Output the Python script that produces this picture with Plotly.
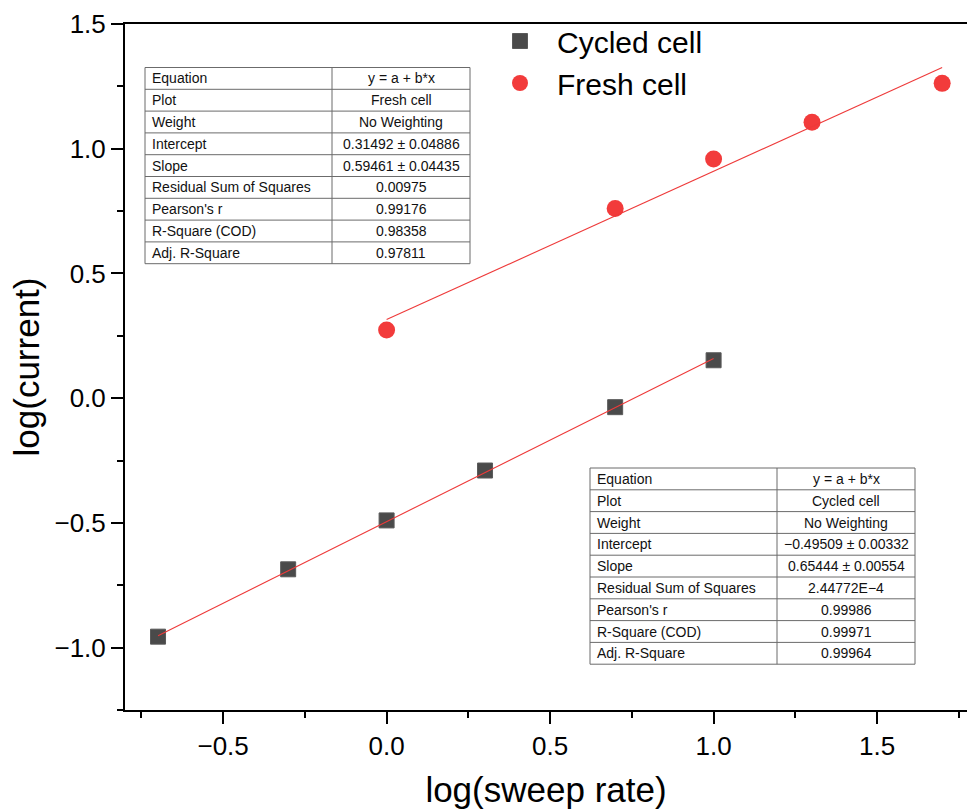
import plotly.graph_objects as go

# ---- data: log10 of sweep rate vs log10 of peak current ----
log_rate_cycled = [-0.699, -0.301, 0.0, 0.301, 0.699, 1.0]
log_i_cycled = [-0.956, -0.686, -0.490, -0.290, -0.036, 0.152]

log_rate_fresh = [0.0, 0.699, 1.0, 1.301, 1.699]
log_i_fresh = [0.273, 0.760, 0.959, 1.106, 1.262]

# linear fit results (y = a + b*x)
fresh_intercept = 0.31492
fresh_slope = 0.59461
cycled_intercept = -0.49509
cycled_slope = 0.65444

stat_labels = ["Equation", "Plot", "Weight", "Intercept", "Slope",
               "Residual Sum of Squares", "Pearson's r", "R-Square (COD)",
               "Adj. R-Square"]
fresh_stats = ["y = a + b*x", "Fresh cell", "No Weighting",
               "0.31492 ± 0.04886", "0.59461 ± 0.04435", "0.00975",
               "0.99176", "0.98358", "0.97811"]
cycled_stats = ["y = a + b*x", "Cycled cell", "No Weighting",
                "−0.49509 ± 0.00332", "0.65444 ± 0.00554", "2.44772E−4",
                "0.99986", "0.99971", "0.99964"]

FONT = "Arial, Liberation Sans, sans-serif"
W, H = 967, 810
ML, MR, MT, MB = 125, 0, 24, 100
PW, PH = W - ML - MR, H - MT - MB


def px_x(px):
    return (px - ML) / PW


def px_y(py):
    return (H - MB - py) / PH


fig = go.Figure()

fig.add_trace(go.Scatter(
    x=log_rate_cycled, y=log_i_cycled, mode="markers", name="Cycled cell",
    marker=dict(symbol="square", size=15, color="#4a4a4a",
                line=dict(color="#5a5a5a", width=1)),
))
fig.add_trace(go.Scatter(
    x=log_rate_fresh, y=log_i_fresh, mode="markers", name="Fresh cell",
    marker=dict(symbol="circle", size=17, color="#f23b3b",
                line=dict(width=0)),
))

# fitted lines over each series' x span
for xs, a, b in [(log_rate_cycled, cycled_intercept, cycled_slope),
                 (log_rate_fresh, fresh_intercept, fresh_slope)]:
    x0, x1 = min(xs), max(xs)
    fig.add_trace(go.Scatter(
        x=[x0, x1], y=[a + b * x0, a + b * x1], mode="lines",
        line=dict(color="#ee3a3a", width=1.1), showlegend=False,
        hoverinfo="skip",
    ))

shapes = []
annotations = []


def stats_table(left, top, labels, values, width=325, col1=187, row_h=21.8):
    n = len(labels)
    bottom = top + n * row_h
    right = left + width
    div = left + col1
    line = dict(color="#6b6b6b", width=1)
    shapes.append(dict(type="rect", xref="paper", yref="paper",
                       x0=px_x(left), x1=px_x(right),
                       y0=px_y(bottom), y1=px_y(top),
                       line=line, fillcolor="white", layer="above"))
    shapes.append(dict(type="line", xref="paper", yref="paper",
                       x0=px_x(div), x1=px_x(div),
                       y0=px_y(bottom), y1=px_y(top), line=line, layer="above"))
    for i in range(1, n):
        yy = px_y(top + i * row_h)
        shapes.append(dict(type="line", xref="paper", yref="paper",
                           x0=px_x(left), x1=px_x(right), y0=yy, y1=yy,
                           line=line, layer="above"))
    for i, (lab, val) in enumerate(zip(labels, values)):
        yc = px_y(top + (i + 0.5) * row_h)
        annotations.append(dict(xref="paper", yref="paper", x=px_x(left + 5),
                                y=yc, text=lab, showarrow=False,
                                xanchor="left", yanchor="middle",
                                font=dict(family=FONT, size=14, color="#111")))
        annotations.append(dict(xref="paper", yref="paper",
                                x=px_x((div + right) / 2), y=yc, text=val,
                                showarrow=False, xanchor="center",
                                yanchor="middle",
                                font=dict(family=FONT, size=14, color="#111")))


stats_table(145, 67.5, stat_labels, fresh_stats)
stats_table(590, 468, stat_labels, cycled_stats)

axis_common = dict(
    showgrid=False, zeroline=False, showline=True, linecolor="black",
    linewidth=2, ticks="outside", ticklen=12, tickwidth=2, tickcolor="black",
    tickfont=dict(family=FONT, size=26, color="black"),
)

fig.update_xaxes(
    **axis_common, range=[-0.8, -0.8 + PW / 327.0], dtick=0.5, tick0=0,
    tickformat=".1f", mirror=True,
    minor=dict(ticks="outside", ticklen=6, tickwidth=2, tickcolor="black",
               dtick=0.25, tick0=0),
    title=dict(text="log(sweep rate)", standoff=17,
               font=dict(family=FONT, size=35, color="black")),
)
fig.update_yaxes(
    **axis_common, range=[-1.25, 1.5], dtick=0.5, tick0=0, tickformat=".1f",
    minor=dict(ticks="outside", ticklen=6, tickwidth=2, tickcolor="black",
               dtick=0.25, tick0=0),
    title=dict(text="log(current)", standoff=4,
               font=dict(family=FONT, size=35, color="black")),
)

fig.update_layout(
    width=W, height=H,
    margin=dict(l=ML, r=MR, t=MT, b=MB, autoexpand=False),
    paper_bgcolor="white", plot_bgcolor="white",
    font=dict(family=FONT, color="black"),
    showlegend=True,
    legend=dict(x=px_x(483), y=px_y(15), xanchor="left", yanchor="top",
                bgcolor="rgba(0,0,0,0)", borderwidth=0, itemwidth=64,
                font=dict(family=FONT, size=30, color="black"),
                itemsizing="trace", tracegroupgap=0),
    shapes=shapes, annotations=annotations,
)

fig.write_html("out.html")
